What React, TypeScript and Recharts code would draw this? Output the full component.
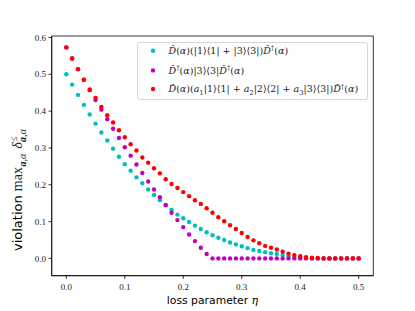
import React from 'react'
import { ScatterChart, Scatter, XAxis, YAxis, ReferenceArea, Legend, Label } from 'recharts'

// loss parameter eta (x values)
const ETA = [
  0.0, 0.01, 0.02, 0.03, 0.04, 0.05, 0.06, 0.07, 0.08, 0.09,
  0.1, 0.11, 0.12, 0.13, 0.14, 0.15, 0.16, 0.17, 0.18, 0.19,
  0.2, 0.21, 0.22, 0.23, 0.24, 0.25, 0.26, 0.27, 0.28, 0.29,
  0.3, 0.31, 0.32, 0.33, 0.34, 0.35, 0.36, 0.37, 0.38, 0.39,
  0.4, 0.41, 0.42, 0.43, 0.44, 0.45, 0.46, 0.47, 0.48, 0.49, 0.5,
]

// D(a)(|1><1| + |3><3|)D^dag(a)
const CYAN = [
  0.5, 0.472, 0.444, 0.417, 0.391, 0.366, 0.342, 0.32, 0.298, 0.276,
  0.256, 0.238, 0.22, 0.204, 0.187, 0.172, 0.158, 0.144, 0.132, 0.119,
  0.109, 0.099, 0.089, 0.08, 0.071, 0.063, 0.056, 0.05, 0.043, 0.038,
  0.033, 0.028, 0.023, 0.02, 0.017, 0.014, 0.012, 0.009, 0.006, 0.004,
  0.002, 0.001, 0, 0, 0, 0, 0, 0, 0, 0, 0,
]

// D^dag(a)|3><3|D^dag(a)
const MAGENTA = [
  0.573, 0.543, 0.514, 0.485, 0.457, 0.43, 0.404, 0.378, 0.352, 0.327,
  0.302, 0.279, 0.255, 0.232, 0.209, 0.187, 0.166, 0.145, 0.124, 0.104,
  0.085, 0.065, 0.047, 0.029, 0.012, 0, 0, 0, 0, 0,
  0, 0, 0, 0, 0, 0, 0, 0, 0, 0,
  0, 0, 0, 0, 0, 0, 0, 0, 0, 0, 0,
]

// D(a)(a1|1><1| + a2|2><2| + a3|3><3|)D^dag(a)
const RED = [
  0.573, 0.543, 0.514, 0.485, 0.459, 0.436, 0.411, 0.389, 0.369, 0.348,
  0.329, 0.31, 0.293, 0.274, 0.26, 0.245, 0.231, 0.215, 0.202, 0.191,
  0.18, 0.169, 0.158, 0.148, 0.136, 0.124, 0.112, 0.101, 0.09, 0.08,
  0.069, 0.058, 0.049, 0.041, 0.034, 0.029, 0.024, 0.018, 0.013, 0.009,
  0.006, 0.0035, 0.002, 0.001, 0, 0, 0, 0, 0, 0, 0,
]

const X_TICKS = [0, 0.1, 0.2, 0.3, 0.4, 0.5]
const Y_TICKS = [0, 0.1, 0.2, 0.3, 0.4, 0.5, 0.6]

const X_DOMAIN = [-0.025, 0.525]
const Y_DOMAIN = [-0.047, 0.604]

const SERIF = '"Liberation Serif", "DejaVu Serif", serif'
const MATH = '"DejaVu Serif", serif'
const SANS = '"DejaVu Sans", sans-serif'

type Seg = { t: string; it?: boolean; b?: boolean; s?: number; dx?: number }

// tiny math-ish text: s = 1 superscript, -1 subscript
function MathText({ segs, size }: { segs: Seg[]; size: number }) {
  let shift = 0
  return (
    <>
      {segs.map((g, i) => {
        const target = (g.s || 0) * size * (g.s === 1 ? 0.38 : 0.28)
        const dy = shift - target
        shift = target
        return (
          <tspan
            key={i}
            dy={dy}
            dx={g.dx}
            fontStyle={g.it ? 'italic' : 'normal'}
            fontWeight={g.b ? 'bold' : 'normal'}
            fontSize={g.s ? size * 0.72 : size}
          >
            {g.t}
          </tspan>
        )
      })}
    </>
  )
}

const DHAT = 'D\u0302'

const LEGEND_ROWS: { color: string; segs: Seg[] }[] = [
  {
    color: '#00bfbf',
    segs: [
      { t: DHAT, it: true }, { t: '(' }, { t: 'α', it: true }, { t: ')(|1⟩⟨1| + |3⟩⟨3|)' },
      { t: DHAT, it: true }, { t: '†', s: 1 }, { t: '(' }, { t: 'α', it: true }, { t: ')' },
    ],
  },
  {
    color: '#bf00bf',
    segs: [
      { t: DHAT, it: true }, { t: '†', s: 1 }, { t: '(' }, { t: 'α', it: true }, { t: ')|3⟩⟨3|' },
      { t: DHAT, it: true }, { t: '†', s: 1 }, { t: '(' }, { t: 'α', it: true }, { t: ')' },
    ],
  },
  {
    color: '#ff0000',
    segs: [
      { t: DHAT, it: true }, { t: '(' }, { t: 'α', it: true }, { t: ')(' },
      { t: 'a', it: true }, { t: '1', s: -1 }, { t: '|1⟩⟨1| + ' },
      { t: 'a', it: true }, { t: '2', s: -1 }, { t: '|2⟩⟨2| + ' },
      { t: 'a', it: true }, { t: '3', s: -1 }, { t: '|3⟩⟨3|)' },
      { t: DHAT, it: true }, { t: '†', s: 1 }, { t: '(' }, { t: 'α', it: true }, { t: ')' },
    ],
  },
]

const dot = (color: string) => (p: any) => <circle cx={p.cx} cy={p.cy} r={2.2} fill={color} />

function LegendBox() {
  const rowsY = [8.7, 28.4, 47]
  return (
    <svg width={231} height={58} style={{ display: 'block' }}>
      <rect x={0.5} y={0.5} width={230} height={57} rx={2.5} fill="#fff" fillOpacity={0.8} stroke="#cccccc" strokeWidth={0.8} />
      {LEGEND_ROWS.map((r, i) => (
        <g key={i}>
          <circle cx={16} cy={rowsY[i]} r={2.2} fill={r.color} />
          <text x={31.5} y={rowsY[i] + 3.3} fontFamily={MATH} fontSize={9.5} fill="#222">
            <MathText segs={r.segs} size={9.5} />
          </text>
        </g>
      ))}
    </svg>
  )
}

function XTitle() {
  return (
    <text x={212.5} y={304} textAnchor="middle" fontFamily={SANS} fontSize={10.8} fill="#000">
      loss parameter <tspan fontFamily={MATH} fontStyle="italic" fontSize={11}>η</tspan>
    </text>
  )
}

function YTitle() {
  const sz = 14
  return (
    <text transform="translate(22,251) rotate(-90)" fontFamily={SERIF} fontSize={sz} fill="#222">
      <tspan fontFamily={SANS} fontSize={13} fill="#000">violation </tspan>
      <MathText
        size={sz}
        segs={[
          { t: 'max' },
          { t: 'a', b: true, it: true, s: -1, dx: 0.5 }, { t: ',', s: -1 }, { t: 'α', it: true, s: -1 },
          { t: ' δ', it: true, dx: 1.5 },
          { t: '≤', s: 1, dx: 0.5 },
          { t: 'a', b: true, it: true, s: -1, dx: -6 }, { t: ',', s: -1 }, { t: 'α', it: true, s: -1 },
        ]}
      />
    </text>
  )
}

const tickStyle = { fontFamily: SERIF, fontSize: 9, fill: '#222' }

export default function App() {
  const cyan = ETA.map((x, i) => ({ x, y: CYAN[i] }))
  const magenta = ETA.map((x, i) => ({ x, y: MAGENTA[i] }))
  const red = ETA.map((x, i) => ({ x, y: RED[i] }))
  return (
    <div style={{ position: 'absolute', left: 0, top: 0, width: 415, height: 311, background: '#fff' }}>
      <ScatterChart width={415} height={311} margin={{ top: 36, right: 41.7, bottom: 0, left: 0 }}>
        <XAxis
          type="number"
          dataKey="x"
          domain={X_DOMAIN}
          ticks={X_TICKS}
          allowDataOverflow
          height={35.3}
          tickSize={3.2}
          tickMargin={5}
          stroke="#000"
          strokeWidth={0.8}
          tick={tickStyle}
          tickFormatter={(v: number) => v.toFixed(1)}
        >
          <Label content={XTitle} />
        </XAxis>
        <YAxis
          type="number"
          dataKey="y"
          domain={Y_DOMAIN}
          ticks={Y_TICKS}
          allowDataOverflow
          width={51.7}
          tickSize={3.2}
          tickMargin={2.5}
          stroke="#000"
          strokeWidth={0.8}
          tick={tickStyle}
          tickFormatter={(v: number) => v.toFixed(1)}
        >
          <Label content={YTitle} />
        </YAxis>
        <ReferenceArea
          x1={X_DOMAIN[0]}
          x2={X_DOMAIN[1]}
          y1={Y_DOMAIN[0]}
          y2={Y_DOMAIN[1]}
          fill="none"
          stroke="#000"
          strokeWidth={0.8}
        />
        <Scatter data={cyan} fill="#00bfbf" shape={dot('#00bfbf')} isAnimationActive={false} />
        <Scatter data={magenta} fill="#bf00bf" shape={dot('#bf00bf')} isAnimationActive={false} />
        <Scatter data={red} fill="#ff0000" shape={dot('#ff0000')} isAnimationActive={false} />
        <Legend
          layout="vertical"
          align="center"
          verticalAlign="middle"
          content={() => <LegendBox />}
          wrapperStyle={{ position: 'absolute', left: 136.7, top: 42.3, width: 231, height: 58 }}
        />
      </ScatterChart>
    </div>
  )
}
